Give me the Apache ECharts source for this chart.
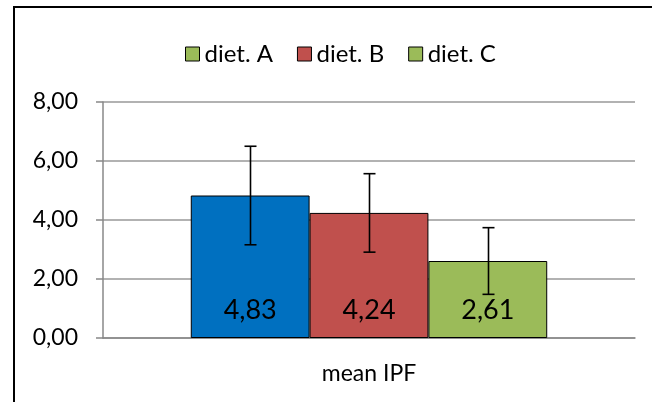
<!DOCTYPE html>
<html><head><meta charset="utf-8">
<script src="https://cdn.jsdelivr.net/npm/echarts@6/dist/echarts.min.js"></script>
<style>html,body{margin:0;padding:0;background:#fff}#c{width:652px;height:402px}</style>
</head><body><div id="c"></div>
<script>
const categories = ['mean IPF'];
const seriesNames = ['diet. A', 'diet. B', 'diet. C'];
const means = [4.83, 4.24, 2.61];
const errors = [1.67, 1.33, 1.13];
const colors = ['#0070C0', '#C0504D', '#9BBB59'];
const legendIconColors = ['#9BBB59', '#C0504D', '#9BBB59'];
const yTicks = { min: 0, max: 8, interval: 2 };

const chart = echarts.init(document.getElementById('c'));
const font = 'Lato, "Open Sans", sans-serif';
const gapPct = 0.33;
const series = [];
seriesNames.forEach((n, i) => {
  series.push({
    name: n, type: 'bar', data: [means[i]], barGap: '0%', barCategoryGap: '33%',
    itemStyle: { color: colors[i], borderColor: '#000', borderWidth: 1 },
    label: { show: true, position: 'insideBottom', distance: 14,
      formatter: p => p.value.toFixed(2).replace('.', ','),
      color: '#000', fontSize: 27, fontFamily: font },
    z: 2
  });
});
seriesNames.forEach((n, i) => {
  series.push({
    name: n + ' err', type: 'custom', z: 5,
    data: [[0, means[i] - errors[i], means[i] + errors[i]]],
    renderItem: function (params, api) {
      const band = api.size([1, 0])[0];
      const bw = band * (1 - gapPct) / 3;
      const lo = api.coord([api.value(0), api.value(1)]);
      const hi = api.coord([api.value(0), api.value(2)]);
      const x = Math.round(lo[0] + (i - 1) * bw) + 0.5;
      const cap = 6;
      const st = { stroke: '#000', lineWidth: 1.6 };
      return { type: 'group', children: [
        { type: 'line', shape: { x1: x, y1: lo[1], x2: x, y2: hi[1] }, style: st },
        { type: 'line', shape: { x1: x - cap, y1: hi[1], x2: x + cap, y2: hi[1] }, style: st },
        { type: 'line', shape: { x1: x - cap, y1: lo[1], x2: x + cap, y2: lo[1] }, style: st }
      ]};
    }
  });
});

chart.setOption({
  animation: false,
  graphic: [{ type: 'rect', shape: { x: 14, y: 7, width: 700, height: 500 },
    style: { fill: 'none', stroke: '#000', lineWidth: 2 }, z: 0 }],
  legend: {
    top: 37, left: 180, itemWidth: 14, itemHeight: 14, itemGap: 24,
    icon: 'rect',
    textStyle: { fontSize: 24, fontFamily: font, color: '#000', padding: [0, 0, 0, 0] },
    data: seriesNames.map((n, i) => ({ name: n,
      itemStyle: { color: legendIconColors[i], borderColor: '#000', borderWidth: 1 } }))
  },
  grid: { left: 103, right: 17, top: 102, bottom: 64 },
  xAxis: {
    type: 'category', data: categories,
    axisLine: { lineStyle: { color: '#888', width: 1.5 } },
    axisTick: { show: false },
    axisLabel: { fontSize: 23, fontFamily: font, color: '#000', margin: 24 }
  },
  yAxis: {
    type: 'value', min: yTicks.min, max: yTicks.max, interval: yTicks.interval,
    axisLine: { show: true, lineStyle: { color: '#888', width: 1.5 } },
    axisTick: { show: true, length: 7, lineStyle: { color: '#888', width: 1.5 } },
    splitLine: { lineStyle: { color: '#999', width: 1.5 } },
    axisLabel: { fontSize: 23, fontFamily: font, color: '#000', margin: 25,
      formatter: v => v.toFixed(2).replace('.', ',') }
  },
  series: series
});
</script></body></html>
